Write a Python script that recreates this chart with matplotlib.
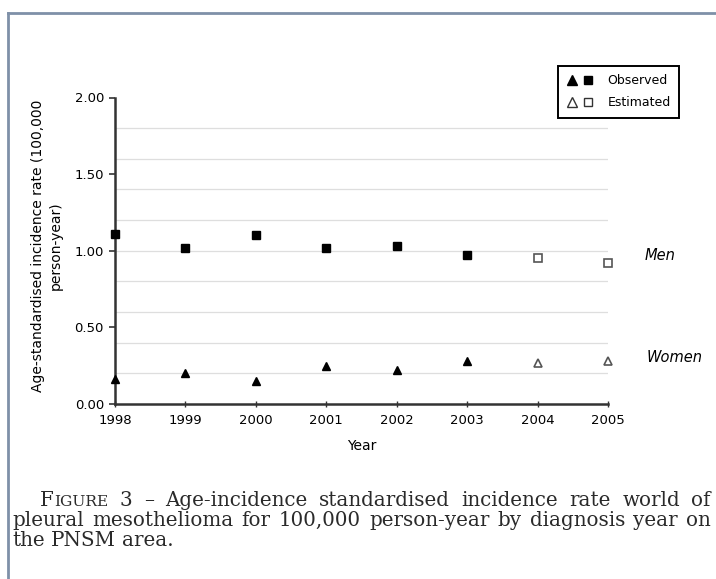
"""
Age-standardised incidence rate of pleural mesothelioma, men and women,
observed (1998-2003) and estimated (2004-2005), with the figure caption.
"""

import matplotlib
matplotlib.use("Agg")
import matplotlib.pyplot as plt
from matplotlib.lines import Line2D
from matplotlib.legend_handler import HandlerTuple

# ── Data ───────────────────────────────────────────────────────────────────
YEARS = [1998, 1999, 2000, 2001, 2002, 2003, 2004, 2005]
MEN   = [1.11, 1.02, 1.10, 1.02, 1.03, 0.97, 0.95, 0.92]
WOMEN = [0.16, 0.20, 0.15, 0.25, 0.22, 0.28, 0.27, 0.28]
ESTIMATED_YEARS = [2004, 2005]

Y_TICKS = [0.0, 0.5, 1.0, 1.5, 2.0]
GRID_Y  = [0.2, 0.4, 0.6, 0.8, 1.0, 1.2, 1.4, 1.6, 1.8]

CAPTION_LINES = [
    "FIGURE 3 – Age-incidence standardised incidence rate world of",
    "pleural mesothelioma for 100,000 person-year by diagnosis year on",
    "the PNSM area.",
]

# ── Style ──────────────────────────────────────────────────────────────────
W_PX, H_PX = 716, 579
DPI        = 100
SANS       = "DejaVu Sans"
SERIF      = "DejaVu Serif"
FRAME_COL  = "#7f90a8"
GRID_COL   = "#dedede"
AXIS_COL   = "#333333"
TICK_FS    = 9.5
LABEL_FS   = 10
CAPTION_FS = 14.3


def fx(px):
    return px / W_PX


def fy(py):
    return 1 - py / H_PX


def justified_line(fig, renderer, words, x0, x1, y, justify=True):
    """Place words (lists of (text, size) pieces) spread between x0 and x1."""
    placed = []
    for word in words:
        pieces = []
        for txt, size in word:
            t = fig.text(0, y, txt, fontsize=size, family=SERIF,
                         va="baseline", ha="left", color="#2a2a2a")
            pieces.append((t, t.get_window_extent(renderer).width / W_PX))
        placed.append(pieces)
    widths = [sum(w for _, w in p) for p in placed]
    if justify and len(placed) > 1:
        gap = (x1 - x0 - sum(widths)) / (len(placed) - 1)
    else:
        gap = fx(6)
    x = x0
    for pieces, wd in zip(placed, widths):
        xx = x
        for t, w in pieces:
            t.set_x(xx)
            xx += w
        x += wd + gap


def main():
    fig = plt.figure(figsize=(W_PX / DPI, H_PX / DPI), dpi=DPI)
    ax = fig.add_axes([fx(115), fy(404), fx(608) - fx(115), fy(97.5) - fy(404)])

    # grid lines
    for g in GRID_Y:
        ax.axhline(g, color=GRID_COL, lw=0.9, zorder=0)

    obs_x  = [y for y in YEARS if y not in ESTIMATED_YEARS]
    obs_m  = [m for y, m in zip(YEARS, MEN) if y not in ESTIMATED_YEARS]
    obs_w  = [w for y, w in zip(YEARS, WOMEN) if y not in ESTIMATED_YEARS]
    est_x  = [y for y in YEARS if y in ESTIMATED_YEARS]
    est_m  = [m for y, m in zip(YEARS, MEN) if y in ESTIMATED_YEARS]
    est_w  = [w for y, w in zip(YEARS, WOMEN) if y in ESTIMATED_YEARS]

    ax.plot(obs_x, obs_m, ls="none", marker="s", ms=5.5, color="black",
            clip_on=False, zorder=4)
    ax.plot(obs_x, obs_w, ls="none", marker="^", ms=6, color="black",
            clip_on=False, zorder=4)
    ax.plot(est_x, est_m, ls="none", marker="s", ms=5.5, mfc="white",
            mec="#555555", mew=1.2, clip_on=False, zorder=4)
    ax.plot(est_x, est_w, ls="none", marker="^", ms=6, mfc="white",
            mec="#555555", mew=1.2, clip_on=False, zorder=4)

    ax.set_xlim(YEARS[0], YEARS[-1])
    ax.set_ylim(0, 2.0)
    ax.set_xticks(YEARS)
    ax.set_xticklabels([str(y) for y in YEARS], fontsize=TICK_FS, family=SANS)
    ax.set_yticks(Y_TICKS)
    ax.set_yticklabels([f"{v:.2f}" for v in Y_TICKS], fontsize=TICK_FS,
                       family=SANS)
    ax.tick_params(axis="y", direction="out", length=4, width=1.2,
                   color=AXIS_COL, pad=4)
    ax.tick_params(axis="x", direction="inout", length=5, width=1.0,
                   color=AXIS_COL, pad=5)

    for side in ("top", "right"):
        ax.spines[side].set_visible(False)
    for side in ("left", "bottom"):
        ax.spines[side].set_linewidth(1.8)
        ax.spines[side].set_color(AXIS_COL)
    ax.patch.set_alpha(0)

    ax.set_xlabel("Year", fontsize=LABEL_FS, family=SANS, labelpad=8)
    fig.text(fx(47), fy(246),
             "Age-standardised incidence rate (100,000\nperson-year)",
             rotation=90, ha="center", va="center", multialignment="center",
             fontsize=LABEL_FS, family=SANS, linespacing=1.4)

    # series labels
    ax.text(fx(645), fy(255), "Men", transform=fig.transFigure,
            fontsize=10.5, style="italic", family=SANS, va="center")
    ax.text(fx(647), fy(358), "Women", transform=fig.transFigure,
            fontsize=10.5, style="italic", family=SANS, va="center")

    # legend: filled = observed, open = estimated
    h_obs = (Line2D([], [], ls="none", marker="^", ms=6.5, color="black"),
             Line2D([], [], ls="none", marker="s", ms=6, color="black"))
    h_est = (Line2D([], [], ls="none", marker="^", ms=6.5, mfc="white",
                    mec="#333333", mew=1.0),
             Line2D([], [], ls="none", marker="s", ms=6, mfc="white",
                    mec="#333333", mew=1.0))
    leg = fig.legend([h_obs, h_est], ["Observed", "Estimated"],
                     handler_map={tuple: HandlerTuple(ndivide=None, pad=0.25)},
                     loc="upper right", bbox_to_anchor=(fx(679), fy(66)),
                     bbox_transform=fig.transFigure,
                     fancybox=False, framealpha=1, edgecolor="black",
                     prop={"family": SANS, "size": 9},
                     handlelength=2.2, handletextpad=1.1, borderpad=0.65,
                     borderaxespad=0, labelspacing=0.75)
    leg.get_frame().set_linewidth(1.4)

    # page frame (top and left rules of the scanned figure box)
    fig.add_artist(Line2D([fx(8), 1.0], [fy(13), fy(13)], color=FRAME_COL,
                          lw=2.0, transform=fig.transFigure))
    fig.add_artist(Line2D([fx(8), fx(8)], [fy(13), 0.0], color=FRAME_COL,
                          lw=2.0, transform=fig.transFigure))

    # caption, justified like the journal text
    renderer = fig.canvas.get_renderer()
    small = CAPTION_FS * 0.78
    first = CAPTION_LINES[0].split(" ")
    words0 = [[("F", CAPTION_FS), ("IGURE", small)]] + \
             [[(w, CAPTION_FS)] for w in first[1:]]
    justified_line(fig, renderer, words0, fx(40), fx(711), fy(506))
    words1 = [[(w, CAPTION_FS)] for w in CAPTION_LINES[1].split(" ")]
    justified_line(fig, renderer, words1, fx(12), fx(711), fy(526))
    words2 = [[(w, CAPTION_FS)] for w in CAPTION_LINES[2].split(" ")]
    justified_line(fig, renderer, words2, fx(12), fx(711), fy(546),
                   justify=False)

    fig.savefig("out.png", dpi=DPI)
    plt.close(fig)


if __name__ == "__main__":
    main()
